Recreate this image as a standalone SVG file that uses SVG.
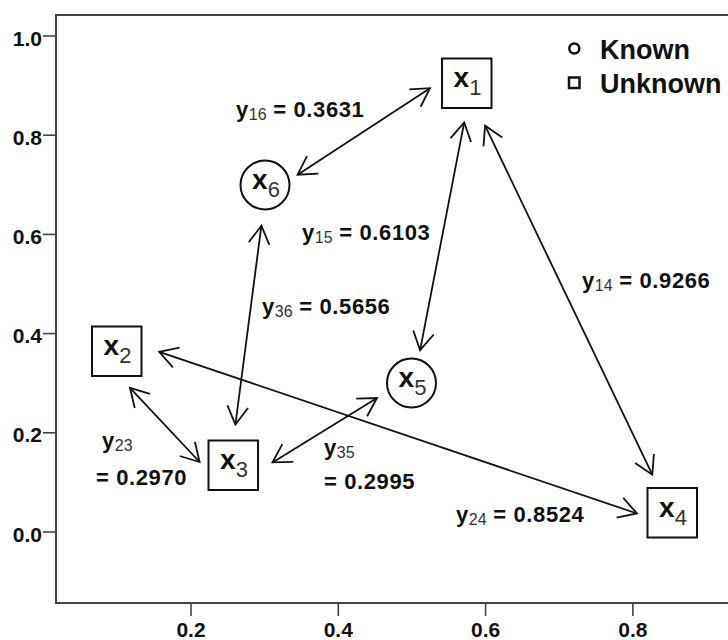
<svg xmlns="http://www.w3.org/2000/svg" width="728" height="640" viewBox="0 0 728 640">
<style>
.frame{fill:none;stroke:#444;stroke-width:2}
.tick{stroke:#444;stroke-width:1.6}
.tl{font-family:"Liberation Sans",Arial,sans-serif;font-weight:bold;font-size:21px;fill:#111}
.node{fill:#fff;stroke:#111;stroke-width:2}
.nl{font-family:"Liberation Sans",Arial,sans-serif;font-weight:bold;font-size:28px;fill:#111}
.ns{font-weight:normal;font-size:22px;fill:#333}
.el{font-family:"Liberation Sans",Arial,sans-serif;font-weight:bold;font-size:22px;fill:#111;letter-spacing:0.6px}
.es{font-weight:normal;font-size:16px;fill:#333;letter-spacing:0}
.edge{stroke:#111;stroke-width:1.8;fill:none;marker-start:url(#ah);marker-end:url(#ah)}
.leg{font-family:"Liberation Sans",Arial,sans-serif;font-weight:bold;font-size:27px;fill:#111}
</style>
<defs>
<marker id="ah" markerUnits="userSpaceOnUse" orient="auto-start-reverse" overflow="visible" refX="0" refY="0" markerWidth="40" markerHeight="40">
<path d="M-18,-10.4 L0,0 L-18,10.4" fill="none" stroke="#111" stroke-width="1.8"/>
</marker>
</defs>
<rect width="728" height="640" fill="#fff"/>
<g id="axes">
<rect class="frame" x="56" y="15" width="700" height="588"/>
<line class="tick" x1="43" y1="36" x2="56" y2="36"/>
<line class="tick" x1="43" y1="135.2" x2="56" y2="135.2"/>
<line class="tick" x1="43" y1="234.4" x2="56" y2="234.4"/>
<line class="tick" x1="43" y1="333.6" x2="56" y2="333.6"/>
<line class="tick" x1="43" y1="432.8" x2="56" y2="432.8"/>
<line class="tick" x1="43" y1="532" x2="56" y2="532"/>
<text class="tl" x="42" y="45.5" text-anchor="end">1.0</text>
<text class="tl" x="42" y="144.7" text-anchor="end">0.8</text>
<text class="tl" x="42" y="243.9" text-anchor="end">0.6</text>
<text class="tl" x="42" y="343.1" text-anchor="end">0.4</text>
<text class="tl" x="42" y="442.3" text-anchor="end">0.2</text>
<text class="tl" x="42" y="541.5" text-anchor="end">0.0</text>
<line class="tick" x1="191" y1="603" x2="191" y2="616"/>
<line class="tick" x1="338.3" y1="603" x2="338.3" y2="616"/>
<line class="tick" x1="485.6" y1="603" x2="485.6" y2="616"/>
<line class="tick" x1="632.9" y1="603" x2="632.9" y2="616"/>
<text class="tl" x="191" y="637" text-anchor="middle">0.2</text>
<text class="tl" x="338.3" y="637" text-anchor="middle">0.4</text>
<text class="tl" x="485.6" y="637" text-anchor="middle">0.6</text>
<text class="tl" x="632.9" y="637" text-anchor="middle">0.8</text>
</g>
<g id="legend">
<circle cx="574.3" cy="48.5" r="5" fill="none" stroke="#111" stroke-width="2.5"/>
<rect x="569" y="77.5" width="10.5" height="10.5" fill="none" stroke="#111" stroke-width="2.5"/>
<text class="leg" x="600" y="58.5">Known</text>
<text class="leg" x="600" y="93">Unknown</text>
</g>
<g id="connectors">
<line class="edge" x1="297.6" y1="174.7" x2="430" y2="88.2"/>
<line class="edge" x1="420.1" y1="350.2" x2="464.2" y2="122.4"/>
<line class="edge" x1="652.3" y1="474.7" x2="485.1" y2="125.7"/>
<line class="edge" x1="235.4" y1="424.5" x2="261.4" y2="225.7"/>
<line class="edge" x1="637" y1="513.5" x2="159.2" y2="351.8"/>
<line class="edge" x1="199.6" y1="462" x2="130" y2="387.8"/>
<line class="edge" x1="272.5" y1="462.4" x2="377" y2="398"/>
</g>
<g id="edge-labels">
<text class="el" x="236" y="117">y<tspan class="es" dy="3">16</tspan><tspan dy="-3"> = 0.3631</tspan></text>
<text class="el" x="302" y="239.5">y<tspan class="es" dy="3">15</tspan><tspan dy="-3"> = 0.6103</tspan></text>
<text class="el" x="262" y="313.5">y<tspan class="es" dy="3">36</tspan><tspan dy="-3"> = 0.5656</tspan></text>
<text class="el" x="582" y="288">y<tspan class="es" dy="3">14</tspan><tspan dy="-3"> = 0.9266</tspan></text>
<text class="el" x="102" y="447.5">y<tspan class="es" dy="3">23</tspan></text>
<text class="el" x="96" y="484.5">= 0.2970</text>
<text class="el" x="324" y="455">y<tspan class="es" dy="3">35</tspan></text>
<text class="el" x="324" y="488.5">= 0.2995</text>
<text class="el" x="456" y="521.5">y<tspan class="es" dy="3">24</tspan><tspan dy="-3"> = 0.8524</tspan></text>
</g>
<g id="x1">
<rect class="node" x="442" y="58.5" width="49.5" height="49.5"/>
<text class="nl" x="467.5" y="87" text-anchor="middle">x<tspan class="ns" dy="8">1</tspan></text>
</g>
<g id="x2">
<rect class="node" x="92" y="326.5" width="49.5" height="49.5"/>
<text class="nl" x="117.5" y="355" text-anchor="middle">x<tspan class="ns" dy="8">2</tspan></text>
</g>
<g id="x3">
<rect class="node" x="208.5" y="440.5" width="49.5" height="49.5"/>
<text class="nl" x="234" y="469" text-anchor="middle">x<tspan class="ns" dy="8">3</tspan></text>
</g>
<g id="x4">
<rect class="node" x="647.5" y="488" width="49.5" height="49.5"/>
<text class="nl" x="673" y="516.5" text-anchor="middle">x<tspan class="ns" dy="8">4</tspan></text>
</g>
<g id="x5">
<circle class="node" cx="411.5" cy="383" r="24.5"/>
<text class="nl" x="412.5" y="387" text-anchor="middle">x<tspan class="ns" dy="8">5</tspan></text>
</g>
<g id="x6">
<circle class="node" cx="265" cy="185" r="24.5"/>
<text class="nl" x="266" y="189" text-anchor="middle">x<tspan class="ns" dy="8">6</tspan></text>
</g>
</svg>
